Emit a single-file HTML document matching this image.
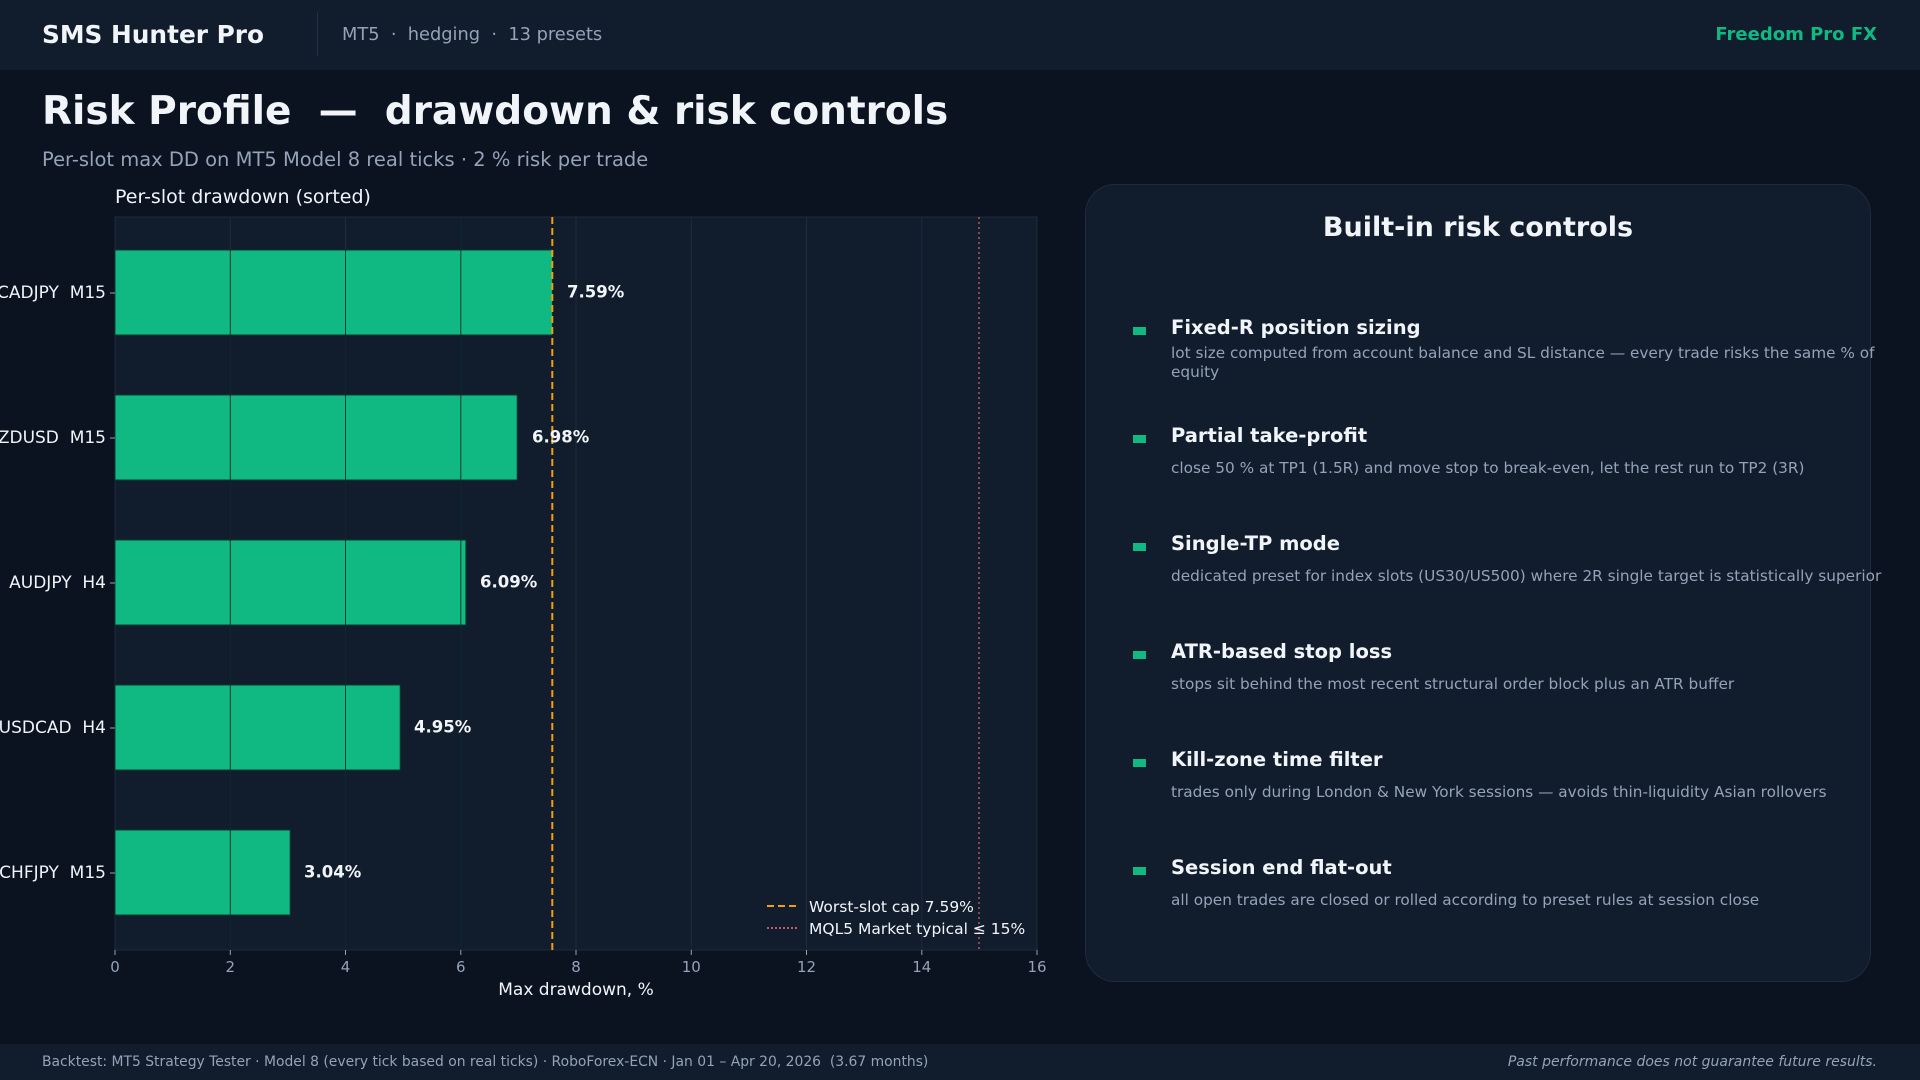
<!DOCTYPE html>
<html><head><meta charset="utf-8"><style>
*{margin:0;padding:0;box-sizing:border-box}
body{width:1920px;height:1080px;background:#0b1220;font-family:"DejaVu Sans","Liberation Sans",sans-serif;color:#f1f5f9;position:relative;overflow:hidden}
.a{position:absolute;white-space:nowrap}
.hdr{position:absolute;left:0;top:0;width:1920px;height:70px;background:#111c2d}
.ftr{position:absolute;left:0;top:1044px;width:1920px;height:36px;background:#111c2d}
.panel{position:absolute;left:1085px;top:184px;width:786px;height:798px;background:#111c2d;border:1px solid #1f2a3c;border-radius:30px}
.h{font-weight:bold;font-size:19.5px;color:#f1f5f9;left:1171px}
.d{font-size:15.3px;color:#94a3b8;left:1171px;line-height:19px}
.sq{position:absolute;left:1133px;width:13px;height:8px;background:#10b981}
</style></head><body>
<div class="hdr"></div>
<div class="a" style="left:42px;top:20px;font-size:24.8px;font-weight:bold">SMS Hunter Pro</div>
<div class="a" style="left:317px;top:12px;width:1px;height:44px;background:#243044"></div>
<div class="a" style="left:342px;top:24px;font-size:17.8px;color:#94a3b8">MT5 &nbsp;·&nbsp; hedging &nbsp;·&nbsp; 13 presets</div>
<div class="a" style="right:43px;top:24px;font-size:18px;font-weight:bold;color:#10b981">Freedom Pro FX</div>
<div class="a" style="left:42px;top:89px;font-size:39px;font-weight:bold">Risk Profile &nbsp;—&nbsp; drawdown &amp; risk controls</div>
<div class="a" style="left:42px;top:148px;font-size:19.5px;color:#94a3b8">Per-slot max DD on MT5 Model 8 real ticks · 2 % risk per trade</div>

<svg class="a" style="left:0;top:0" width="1080" height="1040" font-family="DejaVu Sans, Liberation Sans, sans-serif">
<text x="115" y="203" font-size="19" fill="#f1f5f9">Per-slot drawdown (sorted)</text>
<rect x="115" y="217" width="922" height="733" fill="#111c2d" stroke="#1f2a3c"/>
<g fill="#10b981" stroke="#0b3b2e" stroke-width="1">
<rect x="115" y="250" width="437.4" height="85"/>
<rect x="115" y="395" width="402.2" height="85"/>
<rect x="115" y="540" width="350.9" height="85"/>
<rect x="115" y="685" width="285.2" height="85"/>
<rect x="115" y="830" width="175.2" height="85"/>
</g>
<g stroke="#0f2a2a" stroke-opacity="0.9" stroke-width="1">
<line x1="230.3" y1="217" x2="230.3" y2="950"/><line x1="345.5" y1="217" x2="345.5" y2="950"/><line x1="460.8" y1="217" x2="460.8" y2="950"/>
</g>
<g stroke="#1f2a3c" stroke-width="1">
<line x1="576" y1="217" x2="576" y2="950"/><line x1="691.3" y1="217" x2="691.3" y2="950"/><line x1="806.5" y1="217" x2="806.5" y2="950"/><line x1="921.8" y1="217" x2="921.8" y2="950"/>
<line x1="230.3" y1="217" x2="230.3" y2="250"/><line x1="345.5" y1="217" x2="345.5" y2="250"/>
</g>
<line x1="552.3" y1="217" x2="552.3" y2="950" stroke="#f59e0b" stroke-width="2" stroke-dasharray="7,4"/>
<line x1="979" y1="217" x2="979" y2="950" stroke="#f87171" stroke-opacity="0.7" stroke-width="1.5" stroke-dasharray="2,3"/>
<g font-size="16.5" font-weight="bold" fill="#f1f5f9" dominant-baseline="middle">
<text x="567" y="293">7.59%</text><text x="532" y="438">6.98%</text><text x="480" y="583">6.09%</text><text x="414" y="728">4.95%</text><text x="304" y="873">3.04%</text>
</g>
<g font-size="17" fill="#f1f5f9" text-anchor="end" dominant-baseline="middle">
<text x="106" y="293">CADJPY&#160;&#160;M15</text><text x="106" y="438">NZDUSD&#160;&#160;M15</text><text x="106" y="583">AUDJPY&#160;&#160;H4</text><text x="106" y="728">USDCAD&#160;&#160;H4</text><text x="106" y="873">CHFJPY&#160;&#160;M15</text>
</g>
<g stroke="#94a3b8"><line x1="110" y1="293" x2="115" y2="293"/><line x1="110" y1="438" x2="115" y2="438"/><line x1="110" y1="583" x2="115" y2="583"/><line x1="110" y1="728" x2="115" y2="728"/><line x1="110" y1="873" x2="115" y2="873"/>
<line x1="115" y1="950" x2="115" y2="955"/><line x1="230.3" y1="950" x2="230.3" y2="955"/><line x1="345.5" y1="950" x2="345.5" y2="955"/><line x1="460.8" y1="950" x2="460.8" y2="955"/><line x1="576" y1="950" x2="576" y2="955"/><line x1="691.3" y1="950" x2="691.3" y2="955"/><line x1="806.5" y1="950" x2="806.5" y2="955"/><line x1="921.8" y1="950" x2="921.8" y2="955"/><line x1="1037" y1="950" x2="1037" y2="955"/></g>
<g font-size="15" fill="#94a3b8" text-anchor="middle">
<text x="115" y="972">0</text><text x="230.3" y="972">2</text><text x="345.5" y="972">4</text><text x="460.8" y="972">6</text><text x="576" y="972">8</text><text x="691.3" y="972">10</text><text x="806.5" y="972">12</text><text x="921.8" y="972">14</text><text x="1037" y="972">16</text>
</g>
<text x="576" y="995" font-size="17" fill="#f1f5f9" text-anchor="middle">Max drawdown, %</text>
<line x1="767" y1="906" x2="797" y2="906" stroke="#f59e0b" stroke-width="2" stroke-dasharray="7,4"/>
<line x1="767" y1="928" x2="797" y2="928" stroke="#f87171" stroke-width="1.5" stroke-dasharray="2,2"/>
<text x="809" y="912" font-size="15.5" fill="#f1f5f9">Worst-slot cap 7.59%</text>
<text x="809" y="934" font-size="15.5" fill="#f1f5f9">MQL5 Market typical ≤ 15%</text>
</svg>

<div class="panel"></div>
<div class="a" style="left:1085px;width:786px;text-align:center;top:212px;font-size:27px;font-weight:bold">Built-in risk controls</div>

<div class="sq" style="top:327px"></div><div class="a h" style="top:316px">Fixed-R position sizing</div>
<div class="a d" style="top:344px">lot size computed from account balance and SL distance — every trade risks the same % of<br>equity</div>
<div class="sq" style="top:435px"></div><div class="a h" style="top:424px">Partial take-profit</div>
<div class="a d" style="top:459px">close 50 % at TP1 (1.5R) and move stop to break-even, let the rest run to TP2 (3R)</div>
<div class="sq" style="top:543px"></div><div class="a h" style="top:532px">Single-TP mode</div>
<div class="a d" style="top:567px">dedicated preset for index slots (US30/US500) where 2R single target is statistically superior</div>
<div class="sq" style="top:651px"></div><div class="a h" style="top:640px">ATR-based stop loss</div>
<div class="a d" style="top:675px">stops sit behind the most recent structural order block plus an ATR buffer</div>
<div class="sq" style="top:759px"></div><div class="a h" style="top:748px">Kill-zone time filter</div>
<div class="a d" style="top:783px">trades only during London &amp; New York sessions — avoids thin-liquidity Asian rollovers</div>
<div class="sq" style="top:867px"></div><div class="a h" style="top:856px">Session end flat-out</div>
<div class="a d" style="top:891px">all open trades are closed or rolled according to preset rules at session close</div>

<div class="ftr"></div>
<div class="a" style="left:42px;top:1054px;font-size:13.9px;color:#94a3b8">Backtest: MT5 Strategy Tester · Model 8 (every tick based on real ticks) · RoboForex-ECN · Jan 01 – Apr 20, 2026 &nbsp;(3.67 months)</div>
<div class="a" style="right:43px;top:1054px;font-size:14px;color:#94a3b8;font-style:italic">Past performance does not guarantee future results.</div>
</body></html>
